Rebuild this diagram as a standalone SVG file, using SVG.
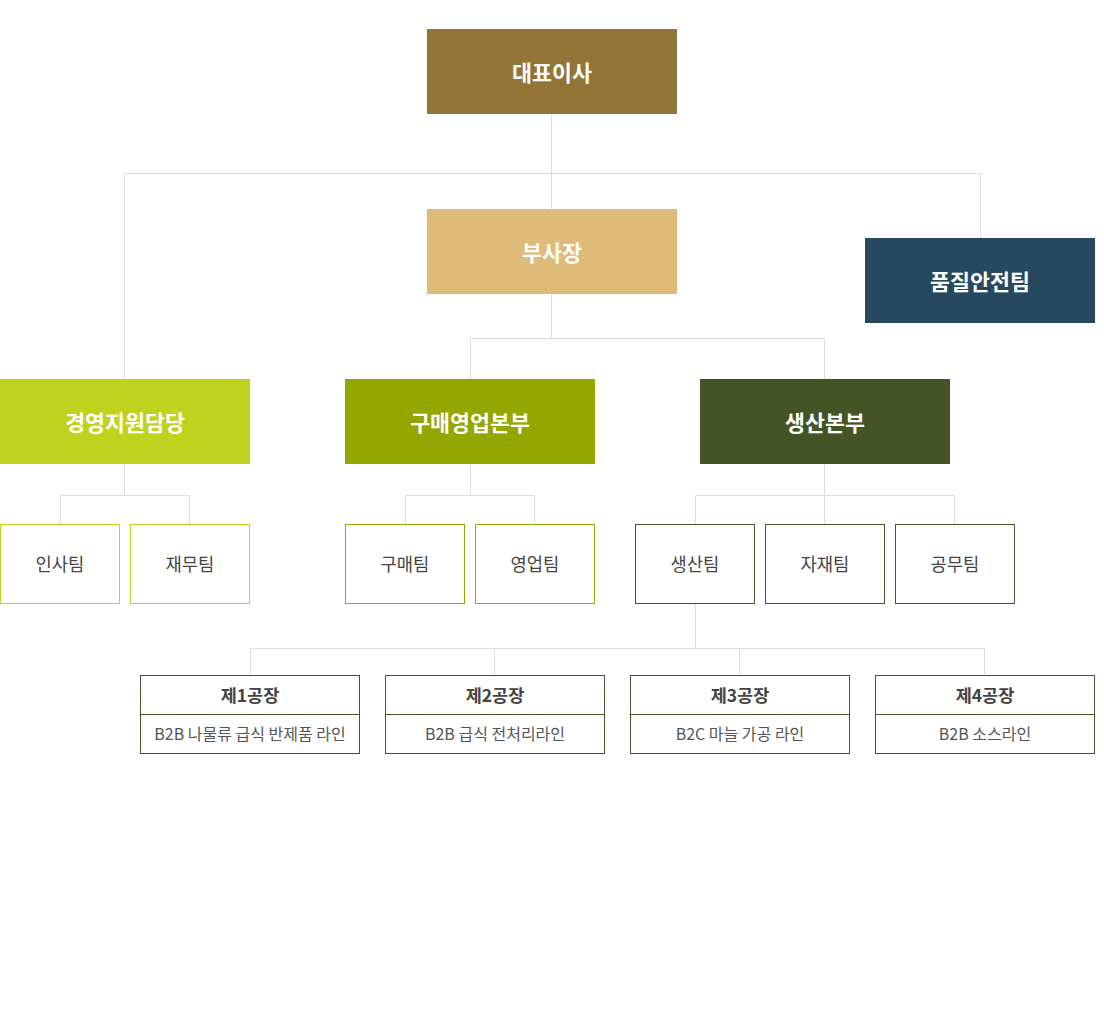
<svg xmlns="http://www.w3.org/2000/svg" width="1104" height="1015" viewBox="0 0 1104 1015">
<style>
.t{font-family:"Noto Sans CJK KR","Noto Sans",sans-serif;text-anchor:middle;dominant-baseline:central}
.h{font-size:21.7px;font-weight:bold;fill:#fff}
.s{font-size:17.7px;fill:#444}
.ft{font-size:17.5px;font-weight:bold;fill:#444}
.fs{font-size:16px;fill:#555}
.c{fill:none;stroke:#dcdcdc;stroke-width:1}
.b1{fill:#fff;stroke:#bfd21e}
.b2{fill:#fff;stroke:#94a600}
.b3{fill:#fff;stroke:#435425}
</style>
<rect width="1104" height="1015" fill="#fff"/>
<g id="connectors" class="c">
<path d="M551.5 114V209M124.5 379V173.5H980.5V238"/>
<path d="M551.5 294V338.5M470.5 379V338.5H824.5V379"/>
<path d="M124.5 464V495.5M60.5 524V495.5H189.5V524"/>
<path d="M470.5 464V495.5M405.5 524V495.5H534.5V524"/>
<path d="M824.5 464V524M695.5 524V495.5H954.5V524"/>
<path d="M695.5 604V648.5M250.5 675V648.5H984.5V675M494.5 648.5V675M739.5 648.5V675"/>
</g>
<g id="ceo"><rect x="427" y="29" width="250" height="85" fill="#937537"/><text class="t h" x="552" y="71">대표이사</text></g>
<g id="vp"><rect x="427" y="209" width="250" height="85" fill="#dfba79"/><text class="t h" x="552" y="251">부사장</text></g>
<g id="qa"><rect x="865" y="238" width="230" height="85" fill="#26495f"/><text class="t h" x="980" y="280">품질안전팀</text></g>
<g id="mgmt"><rect x="0" y="379" width="250" height="85" fill="#bfd21e"/><text class="t h" x="125" y="421">경영지원담당</text></g>
<g id="sales"><rect x="345" y="379" width="250" height="85" fill="#94a600"/><text class="t h" x="470" y="421">구매영업본부</text></g>
<g id="prod"><rect x="700" y="379" width="250" height="85" fill="#435425"/><text class="t h" x="825" y="421">생산본부</text></g>
<g id="hr"><rect class="b1" x="0.5" y="524.5" width="119" height="79"/><text class="t s" x="60" y="563">인사팀</text></g>
<g id="fin"><rect class="b1" x="130.5" y="524.5" width="119" height="79"/><text class="t s" x="190" y="563">재무팀</text></g>
<g id="buy"><rect class="b2" x="345.5" y="524.5" width="119" height="79"/><text class="t s" x="405" y="563">구매팀</text></g>
<g id="sell"><rect class="b2" x="475.5" y="524.5" width="119" height="79"/><text class="t s" x="535" y="563">영업팀</text></g>
<g id="pt"><rect class="b3" x="635.5" y="524.5" width="119" height="79"/><text class="t s" x="695" y="563">생산팀</text></g>
<g id="mat"><rect class="b3" x="765.5" y="524.5" width="119" height="79"/><text class="t s" x="825" y="563">자재팀</text></g>
<g id="eng"><rect class="b3" x="895.5" y="524.5" width="119" height="79"/><text class="t s" x="955" y="563">공무팀</text></g>
<g id="f1"><rect class="b3" x="140.5" y="675.5" width="219" height="78"/><path d="M140.5 714.5H359.5" stroke="#435425"/><text class="t ft" x="250" y="694">제1공장</text><text class="t fs" x="250" y="733">B2B 나물류 급식 반제품 라인</text></g>
<g id="f2"><rect class="b3" x="385.5" y="675.5" width="219" height="78"/><path d="M385.5 714.5H604.5" stroke="#435425"/><text class="t ft" x="495" y="694">제2공장</text><text class="t fs" x="495" y="733">B2B 급식 전처리라인</text></g>
<g id="f3"><rect class="b3" x="630.5" y="675.5" width="219" height="78"/><path d="M630.5 714.5H849.5" stroke="#435425"/><text class="t ft" x="740" y="694">제3공장</text><text class="t fs" x="740" y="733">B2C 마늘 가공 라인</text></g>
<g id="f4"><rect class="b3" x="875.5" y="675.5" width="219" height="78"/><path d="M875.5 714.5H1094.5" stroke="#435425"/><text class="t ft" x="985" y="694">제4공장</text><text class="t fs" x="985" y="733">B2B 소스라인</text></g>
</svg>
